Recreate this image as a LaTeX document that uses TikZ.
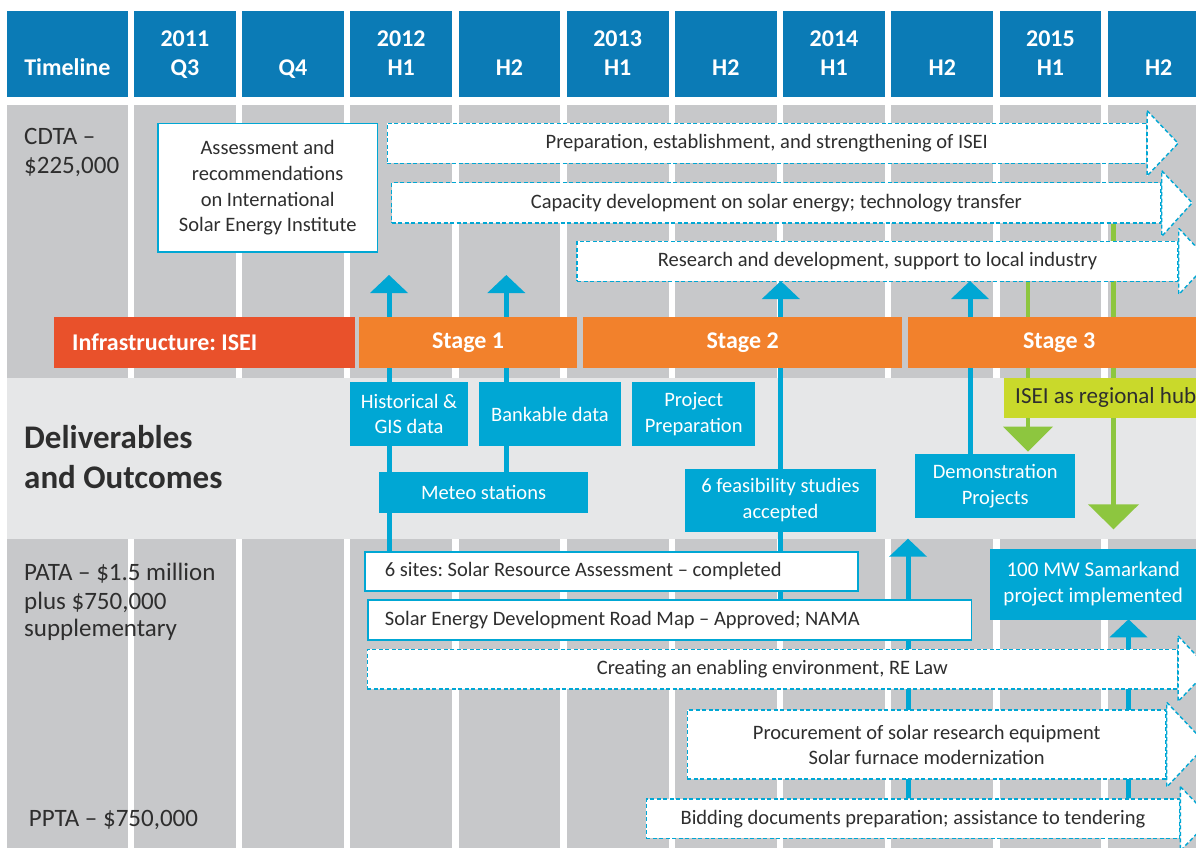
\documentclass[tikz,border=0pt]{standalone}
\usepackage{fontspec}
\setmainfont{Carlito}
\frenchspacing
\newcommand{\myfs}[2]{\fontsize{#1}{#2}\selectfont}
\definecolor{hdrblue}{HTML}{0B7BB6}
\definecolor{cyanB}{HTML}{00A7D4}
\definecolor{colgray}{HTML}{C7C8CA}
\definecolor{bandgray}{HTML}{E6E7E8}
\definecolor{redO}{HTML}{E9512B}
\definecolor{orangeS}{HTML}{F2812C}
\definecolor{greenA}{HTML}{8DC63F}
\definecolor{limeB}{HTML}{C9D92B}
\definecolor{txtdark}{HTML}{2E2E2E}
\pgfdeclarelayer{bg}
\pgfdeclarelayer{lines}
\pgfsetlayers{bg,lines,main}
\begin{document}
\begin{tikzpicture}[x=1pt,y=-1pt,
  hdr/.style={fill=hdrblue, minimum width=101.7pt, minimum height=86.5pt, inner sep=0pt},
  htxt/.style={text=white, font=\myfs{24}{29}\bfseries, inner sep=0pt, anchor=base},
  colbox/.style={fill=colgray, minimum width=101.7pt, minimum height=755pt, inner sep=0pt, anchor=north},
  rowtxt/.style={text=txtdark, font=\myfs{25}{29}, inner sep=0pt, anchor=base west},
  bigtxt/.style={text=txtdark, font=\myfs{33}{38}\bfseries, inner sep=0pt, anchor=base west},
  bar/.style={minimum height=51pt, inner sep=0pt, anchor=north west, text=white, font=\myfs{24}{28}\bfseries},
  cbox/.style={fill=cyanB, text=white, font=\myfs{20.5}{25.5}, align=center, inner sep=0pt, anchor=north west},
  wbox/.style={draw=cyanB, line width=1.8pt, fill=white, text=txtdark, font=\myfs{20.5}{25.7}, inner sep=0pt, anchor=north west},
  dbox/.style={draw=cyanB, line width=1.4pt, dash pattern=on 4pt off 2.5pt, fill=white, text=txtdark, font=\myfs{20.5}{25}, inner sep=0pt, anchor=north west, align=center},
  dhead/.style={draw=cyanB, line width=1.4pt, dash pattern=on 4pt off 2.5pt, fill=white},
  bline/.style={draw=cyanB, line width=5pt},
  gline/.style={draw=greenA, line width=4.5pt}]
\useasboundingbox (0,0) rectangle (1196,848);

\begin{pgfonlayer}{bg}
\fill[white] (0,0) rectangle (1196,848);
\node[hdr, minimum width=120.9pt] (h0) at (67.35,54.25) {};
\foreach \i in {1,...,10} \node[hdr] (h\i) at ({184.85+108.2*(\i-1)},54.25) {};
\node[colbox, minimum width=120.9pt] (c0) at (67.35,105) {};
\foreach \i in {1,...,10} \node[colbox] (c\i) at ({184.85+108.2*(\i-1)},105) {};
\node[fill=bandgray, minimum width=1203pt, minimum height=161pt, anchor=north west, inner sep=0pt] (band) at (6.9,378) {};
\end{pgfonlayer}

% header texts
\node[htxt] (tl) at (67.35,76) {Timeline};
\node[htxt] (y11) at (184.85,46.7) {2011};
\node[htxt] (y12) at (401.25,46.7) {2012};
\node[htxt] (y13) at (617.65,46.7) {2013};
\node[htxt] (y14) at (834.05,46.7) {2014};
\node[htxt] (y15) at (1050.45,46.7) {2015};
\node[htxt] (s1) at (184.85,76) {Q3};
\node[htxt] (s2) at (293.05,76) {Q4};
\node[htxt] (s3) at (401.25,76) {H1};
\node[htxt] (s4) at (509.45,76) {H2};
\node[htxt] (s5) at (617.65,76) {H1};
\node[htxt] (s6) at (725.85,76) {H2};
\node[htxt] (s7) at (834.05,76) {H1};
\node[htxt] (s8) at (942.25,76) {H2};
\node[htxt] (s9) at (1050.45,76) {H1};
\node[htxt] (s10) at (1158.65,76) {H2};

% row labels
\node[rowtxt] (cdta1) at (24,144) {CDTA –};
\node[rowtxt] (cdta2) at (24,173.3) {\$225,000};
\node[bigtxt] (del1) at (24,448.7) {Deliverables};
\node[bigtxt] (del2) at (24,488.3) {and Outcomes};
\node[rowtxt] (pata1) at (24,580) {PATA – \$1.5 million};
\node[rowtxt] (pata2) at (24,609.3) {plus \$750,000};
\node[rowtxt] (pata3) at (24,636.7) {supplementary};
\node[rowtxt] (ppta) at (28.7,826.7) {PPTA – \$750,000};

% stage bars
\node[bar, fill=redO, inner xsep=18pt, text width=264.8pt, align=flush left] (infra) at (54,316.7) {Infrastructure: ISEI};
\node[bar, fill=orangeS, minimum width=217.7pt] (st1) at (359,316.7) {Stage 1};
\node[bar, fill=orangeS, minimum width=319.1pt] (st2) at (582.9,316.7) {Stage 2};
\node[bar, fill=orangeS, minimum width=302.1pt] (st3) at (907.9,316.7) {Stage 3};

% deliverables
\node[cbox, minimum width=117.7pt, minimum height=63.7pt] (hist) at (350,382) {Historical \&\\GIS data};
\node[cbox, minimum width=141.5pt, minimum height=63.7pt] (bank) at (479,382) {Bankable data};
\node[cbox, minimum width=123pt, minimum height=63.7pt] (pprep) at (632,382) {Project\\Preparation};
\node[cbox, minimum width=208.9pt, minimum height=40.3pt] (meteo) at (378.9,472) {Meteo stations};
\node[cbox, minimum width=190.6pt, minimum height=63pt] (feas) at (685,468.3) {6 feasibility studies\\accepted};
\node[cbox, minimum width=160pt, minimum height=63.7pt] (demo) at (915,454) {Demonstration\\Projects};
\node[fill=limeB, text=txtdark, font=\myfs{23}{27}, anchor=north west, inner xsep=11pt, inner ysep=0pt, text width=250pt, align=flush left, minimum height=40pt] (hub) at (1004,377.7) {ISEI as regional hub};
\node[cbox, minimum width=206pt, minimum height=71pt, font=\myfs{21}{26.7}] (samark) at (990,548.3) {100 MW Samarkand\\project implemented};

% solid white boxes
\node[wbox, minimum width=219.6pt, minimum height=128.6pt, align=center] (assess) at (157,122.7) {Assessment and\\recommendations\\on International\\Solar Energy Institute};
\node[wbox, inner xsep=20pt, text width=453pt, align=flush left, minimum height=39.3pt] (sites) at (364,550.7) {6 sites: Solar Resource Assessment – completed};
\node[wbox, inner xsep=16.6pt, text width=570pt, align=flush left, minimum height=39.7pt] (road) at (367.4,599.3) {Solar Energy Development Road Map – Approved; NAMA};

% dashed arrows
\node[dbox, minimum width=759.2pt, minimum height=39.8pt] (prep) at (386.5,122.7) {Preparation, establishment, and strengthening of ISEI};
\draw[dhead] ([yshift=12pt]prep.north east) -- ([xshift=31pt]prep.east) -- ([yshift=-12pt]prep.south east) -- cycle;
\node[dbox, minimum width=769.3pt, minimum height=40.3pt] (cap) at (391,182) {Capacity development on solar energy; technology transfer};
\draw[dhead] ([yshift=11.3pt]cap.north east) -- ([xshift=30.5pt]cap.east) -- ([yshift=-12.7pt]cap.south east) -- cycle;
\node[dbox, minimum width=600.9pt, minimum height=40pt] (res) at (576.4,240.7) {Research and development, support to local industry};
\draw[dhead] ([yshift=12.4pt]res.north east) -- ([xshift=31pt]res.east) -- ([yshift=-12.4pt]res.south east) -- cycle;
\node[dbox, minimum width=810.1pt, minimum height=39.6pt] (create) at (366.6,648.7) {Creating an enabling environment, RE Law};
\draw[dhead] ([yshift=12.7pt]create.north east) -- ([xshift=31pt]create.east) -- ([yshift=-11.7pt]create.south east) -- cycle;
\node[dbox, minimum width=478.6pt, minimum height=69pt] (procure) at (686.7,709.3) {Procurement of solar research equipment\\Solar furnace modernization};
\draw[dhead] ([yshift=7pt]procure.north east) -- ([xshift=40pt]procure.east) -- ([yshift=-7.4pt]procure.south east) -- cycle;
\node[dbox, minimum width=533.4pt, minimum height=39.4pt] (bid) at (645.6,798.3) {Bidding documents preparation; assistance to tendering};
\draw[dhead] ([yshift=11.6pt]bid.north east) -- ([xshift=31pt]bid.east) -- ([yshift=-11.6pt]bid.south east) -- cycle;

% connector lines (behind boxes)
\begin{pgfonlayer}{lines}
\coordinate (tB1) at (389,275);
\coordinate (tB2) at (506.3,275);
\coordinate (tB3) at (780.8,281);
\coordinate (tB4) at (970,281);
\coordinate (tB5) at (908,538.7);
\coordinate (tB6) at (1128.5,619.3);
\coordinate (tG1) at (1028,451.7);
\coordinate (tG2) at (1113.5,529.3);
\draw[bline] (sites.north -| tB1) -- ([yshift=-17pt]tB1);
\fill[cyanB] (tB1) -- ++(-19,18) -- ++(38,0) -- cycle;
\draw[bline] (meteo.north -| tB2) -- ([yshift=-17pt]tB2);
\fill[cyanB] (tB2) -- ++(-19,18) -- ++(38,0) -- cycle;
\draw[bline] (road.north -| tB3) -- ([yshift=-17pt]tB3);
\fill[cyanB] (tB3) -- ++(-19,18) -- ++(38,0) -- cycle;
\draw[bline] (demo.north -| tB4) -- ([yshift=-17pt]tB4);
\fill[cyanB] (tB4) -- ++(-19,18) -- ++(38,0) -- cycle;
\draw[bline] (bid.north -| tB5) -- ([yshift=-17pt]tB5);
\fill[cyanB] (tB5) -- ++(-19,18) -- ++(38,0) -- cycle;
\draw[bline] (bid.north -| tB6) -- ([yshift=-17pt]tB6);
\fill[cyanB] (tB6) -- ++(-19,18) -- ++(38,0) -- cycle;
\draw[gline] (res.south -| tG1) -- ([yshift=24pt]tG1);
\fill[greenA] (tG1) -- ++(-25,-25) -- ++(50,0) -- cycle;
\draw[gline] (cap.south -| tG2) -- ([yshift=24pt]tG2);
\fill[greenA] (tG2) -- ++(-25.5,-25) -- ++(51,0) -- cycle;
\end{pgfonlayer}
\end{tikzpicture}
\end{document}
